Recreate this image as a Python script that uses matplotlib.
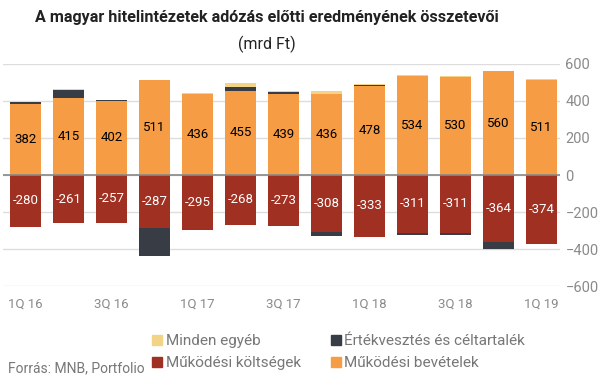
import matplotlib.pyplot as plt
import numpy as np
from matplotlib.lines import Line2D

plt.rcParams['font.family'] = ['Roboto', 'DejaVu Sans']

# Data (mrd Ft)
quarters = ["1Q 16", "2Q 16", "3Q 16", "4Q 16", "1Q 17", "2Q 17", "3Q 17",
            "4Q 17", "1Q 18", "2Q 18", "3Q 18", "4Q 18", "1Q 19"]
bevetelek = [382, 415, 402, 511, 436, 455, 439, 436, 478, 534, 530, 560, 511]
koltsegek = [-280, -261, -257, -287, -295, -268, -273, -308, -333, -311, -311, -364, -374]
ertekvesztes = [10, 45, 5, -148, 0, 20, 9, -20, 10, -15, -15, -38, 0]
egyeb = [4, 5, -3, -3, 5, 22, 5, 15, 5, 5, 4, -4, 10]

c_orange = "#F59C45"
c_red = "#A03022"
c_dark = "#383C44"
c_yellow = "#F3D385"
grey = "#8A8A8A"

x = np.arange(len(quarters))
w = 0.72

fig = plt.figure(figsize=(6.06, 3.78), dpi=100)
ax = fig.add_axes([0.005, 0.243, 0.919, 0.588])

ax.bar(x, bevetelek, w, color=c_orange, zorder=3)
ax.bar(x, koltsegek, w, color=c_red, zorder=3)

# stack the other components on top of the positive or negative side
pos_base = np.array(bevetelek, dtype=float)
neg_base = np.array(koltsegek, dtype=float)
for vals, col in [(ertekvesztes, c_dark), (egyeb, c_yellow)]:
    vals = np.array(vals, dtype=float)
    bottom = np.where(vals >= 0, pos_base, neg_base)
    ax.bar(x, vals, w, bottom=bottom, color=col, zorder=3)
    pos_base = np.where(vals >= 0, pos_base + vals, pos_base)
    neg_base = np.where(vals < 0, neg_base + vals, neg_base)

for xi, b, k in zip(x, bevetelek, koltsegek):
    ax.text(xi, b / 2, str(b), ha="center", va="center", fontsize=9.5, color="black", zorder=4)
    ax.text(xi, k / 2, str(k), ha="center", va="center", fontsize=9.5, color="white", zorder=4)

ax.set_xlim(-0.52, 12.43)
ax.set_ylim(-600, 600)
ax.set_yticks(range(-600, 601, 200))
ax.yaxis.tick_right()
ax.tick_params(axis="y", length=0, labelsize=10.5, labelcolor=grey, pad=4)
ax.set_xticks(x[::2])
ax.set_xticklabels(quarters[::2])
ax.tick_params(axis="x", length=0, labelsize=9.5, labelcolor=grey, pad=8)
ax.grid(axis="y", color="#DDDDDD", linewidth=1, zorder=0)
ax.axhline(0, color="#888888", linewidth=1.2, zorder=5)
for s in ax.spines.values():
    s.set_visible(False)

fig.text(0.44, 0.955, "A magyar hitelintézetek adózás előtti eredményének összetevői",
         ha="center", va="center", fontsize=11.6, fontweight="bold", color="#222222")
fig.text(0.44, 0.883, "(mrd Ft)", ha="center", va="center", fontsize=11.5, color="#222222")

handles = [Line2D([], [], marker="s", linestyle="none", markersize=7, color=c) for c in
           [c_yellow, c_red, c_dark, c_orange]]
labels = ["Minden egyéb", "Működési költségek", "Értékvesztés és céltartalék", "Működési bevételek"]
leg = fig.legend(handles, labels, ncol=2, loc="center left", bbox_to_anchor=(0.252, 0.068),
                 frameon=False, fontsize=11, handlelength=0.6, handletextpad=0.25,
                 columnspacing=2.0, labelspacing=0.55, borderaxespad=0, borderpad=0)
for t in leg.get_texts():
    t.set_color("#777777")

fig.text(0.014, 0.026, "Forrás: MNB, Portfolio", ha="left", va="center", fontsize=10, color="#777777")

fig.savefig("out.png", dpi=100)
